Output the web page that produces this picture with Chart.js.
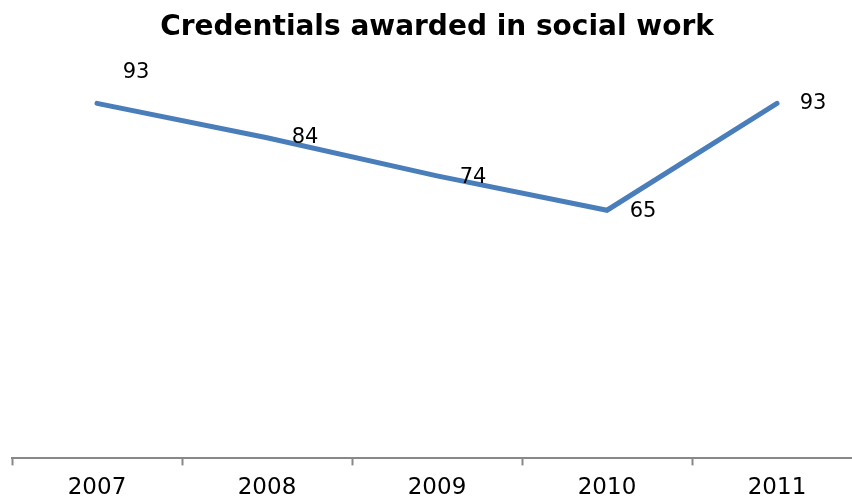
<!DOCTYPE html>
<html><head><meta charset="utf-8">
<script src="https://cdn.jsdelivr.net/npm/chart.js@4/dist/chart.umd.min.js"></script>
<style>
html,body{margin:0;padding:0;background:#fff;overflow:hidden;width:852px;height:497px;}
#wrap{width:862px;height:511px;position:relative;}
</style></head>
<body><div id="wrap"><canvas id="c"></canvas></div>
<script>
const categories = ["2007","2008","2009","2010","2011"];
const credentials = [93, 84, 74, 65, 93];
const chartTitle = "Credentials awarded in social work";

const labelOffsets = [[39,-31],[38,0],[36,2],[36,1],[36,0]];
const FONT = '"DejaVu Sans", sans-serif';

const dataLabels = {
  id: 'dataLabels',
  afterDatasetsDraw(chart) {
    const ctx = chart.ctx;
    const meta = chart.getDatasetMeta(0);
    ctx.save();
    ctx.font = '21px ' + FONT;
    ctx.fillStyle = '#000';
    ctx.textAlign = 'center';
    ctx.textBaseline = 'middle';
    meta.data.forEach((pt, i) => {
      const o = labelOffsets[i];
      ctx.fillText(String(credentials[i]), pt.x + o[0], pt.y + o[1]);
    });
    ctx.restore();
  }
};

new Chart(document.getElementById('c'), {
  type: 'line',
  data: {
    labels: categories,
    datasets: [{
      data: credentials,
      borderColor: '#4A7EBB',
      borderWidth: 5,
      pointRadius: 0,
      tension: 0,
      fill: false,
      borderCapStyle: 'round',
      borderJoinStyle: 'miter'
    }]
  },
  options: {
    responsive: true,
    maintainAspectRatio: false,
    animation: false,
    layout: { padding: { left: 12, right: 0, top: 0, bottom: 0 } },
    plugins: {
      legend: { display: false },
      tooltip: { enabled: false },
      title: {
        display: true,
        text: chartTitle,
        color: '#000',
        font: { family: FONT, size: 28, weight: 'bold' },
        padding: { top: 11, bottom: 32 }
      }
    },
    scales: {
      x: {
        offset: true,
        grid: { display: true, drawOnChartArea: false, offset: true, tickLength: 7, color: '#888', tickWidth: 2 },
        border: { display: true, color: '#888', width: 2 },
        ticks: { color: '#000', font: { family: FONT, size: 23 }, padding: 9, maxRotation: 0 }
      },
      y: {
        display: false,
        min: 0,
        max: 100
      }
    }
  },
  plugins: [dataLabels]
});
</script>
</body></html>
